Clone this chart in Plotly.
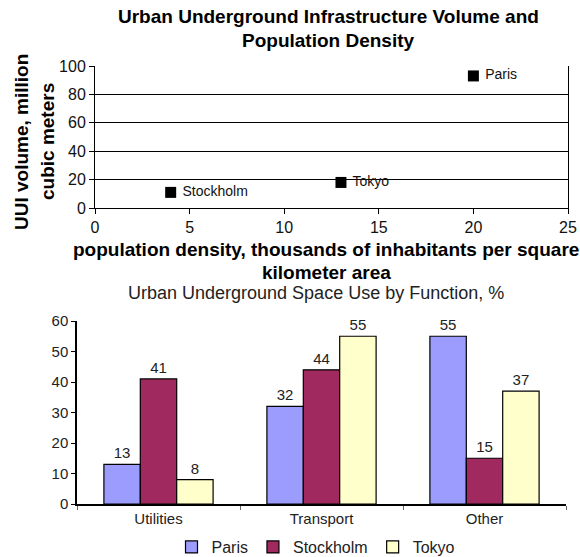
import plotly.graph_objects as go

# Scatter data: population density vs UUI volume
cities = ["Paris", "Tokyo", "Stockholm"]
density = [20, 13, 4]
uui_volume = [93, 18, 11]

# Bar data: underground space use by function, %
functions = ["Utilities", "Transport", "Other"]
paris = [13, 32, 55]
stockholm = [41, 44, 15]
tokyo = [8, 55, 37]

W, H = 580, 557
FONT = "Arial, Liberation Sans, sans-serif"

def px_x(x):
    return x / W

def px_y(y):
    return 1 - y / H

fig = go.Figure()

fig.add_trace(go.Scatter(
    x=density, y=uui_volume, text=[" " + c for c in cities],
    mode="markers+text", textposition="middle right",
    marker=dict(symbol="square", size=11, color="black"),
    textfont=dict(size=14, color="#111", family=FONT),
    xaxis="x", yaxis="y", showlegend=False, cliponaxis=False,
))

bar_series = [("Paris", paris, "#9C9CFF"), ("Stockholm", stockholm, "#A02A5F"), ("Tokyo", tokyo, "#FFFFCC")]
for name, vals, col in bar_series:
    fig.add_trace(go.Bar(
        x=functions, y=vals, name=name, marker=dict(color=col, line=dict(color="black", width=1.2)),
        text=vals, textposition="outside", textfont=dict(size=15, color="#222", family=FONT),
        xaxis="x2", yaxis="y2", cliponaxis=False,
    ))

fig.update_layout(
    width=W, height=H, margin=dict(l=0, r=0, t=0, b=0, autoexpand=False),
    paper_bgcolor="white", plot_bgcolor="white",
    font=dict(family=FONT, color="black"),
    barmode="group", bargap=0.33, bargroupgap=0,
    xaxis=dict(domain=[px_x(95), px_x(568)], anchor="y", range=[0, 25], dtick=5,
               showline=True, linecolor="black", linewidth=1, ticks="outside", ticklen=5,
               tickcolor="black", showgrid=False, zeroline=False, automargin=False,
               tickfont=dict(size=16, color="#111")),
    yaxis=dict(domain=[px_y(208), px_y(66)], anchor="x", range=[0, 100], dtick=20,
               showline=True, linecolor="black", linewidth=1, mirror=True, ticks="outside", ticklen=5,
               tickcolor="black", showgrid=True, gridcolor="black", gridwidth=1, zeroline=False,
               automargin=False, tickfont=dict(size=16, color="#111")),
    xaxis2=dict(domain=[px_x(77), px_x(566)], anchor="y2",
                showline=True, linecolor="black", linewidth=1.5, ticks="outside", tickson="boundaries",
                ticklen=4, tickcolor="#666", showgrid=False, automargin=False,
                tickfont=dict(size=15, color="#222")),
    yaxis2=dict(domain=[px_y(504), px_y(321)], anchor="x2", range=[0, 60], dtick=10,
                showline=True, linecolor="black", linewidth=1.5, ticks="outside", ticklen=4,
                tickcolor="black", showgrid=False, zeroline=False, automargin=False,
                tickfont=dict(size=15, color="#222")),
    legend=dict(orientation="h", x=px_x(316), y=px_y(547), xanchor="center", yanchor="middle",
                font=dict(size=16, color="#222"), itemwidth=30, tracegroupgap=0),
    annotations=[
        dict(text="<b>Urban Underground Infrastructure Volume and</b>", x=px_x(328), y=px_y(17),
             xref="paper", yref="paper", showarrow=False, font=dict(size=19), xanchor="center", yanchor="middle"),
        dict(text="<b>Population Density</b>", x=px_x(328), y=px_y(40),
             xref="paper", yref="paper", showarrow=False, font=dict(size=19), xanchor="center", yanchor="middle"),
        dict(text="<b>UUI volume, million</b>", x=px_x(21), y=px_y(142), textangle=-90,
             xref="paper", yref="paper", showarrow=False, font=dict(size=19), xanchor="center", yanchor="middle"),
        dict(text="<b>cubic meters</b>", x=px_x(47), y=px_y(142), textangle=-90,
             xref="paper", yref="paper", showarrow=False, font=dict(size=19), xanchor="center", yanchor="middle"),
        dict(text="<b>population density, thousands of inhabitants per square</b>", x=px_x(326), y=px_y(249),
             xref="paper", yref="paper", showarrow=False, font=dict(size=19), xanchor="center", yanchor="middle"),
        dict(text="<b>kilometer area</b>", x=px_x(326), y=px_y(272),
             xref="paper", yref="paper", showarrow=False, font=dict(size=19), xanchor="center", yanchor="middle"),
        dict(text="Urban Underground Space Use by Function, %", x=px_x(316), y=px_y(293),
             xref="paper", yref="paper", showarrow=False, font=dict(size=18, color="#222"),
             xanchor="center", yanchor="middle"),
    ],
)

fig.write_html("out.html", config={"displayModeBar": False},
               post_script="document.body.style.margin='0';document.body.style.overflow='hidden';")
